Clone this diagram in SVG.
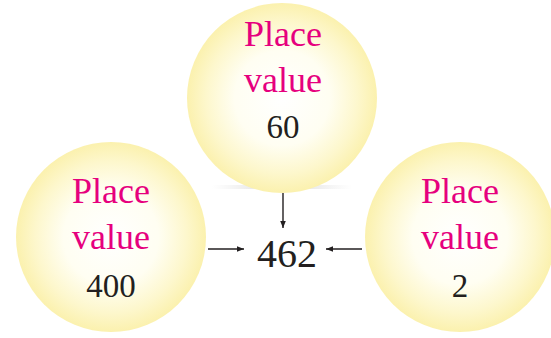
<svg xmlns="http://www.w3.org/2000/svg" width="551" height="338" viewBox="0 0 551 338">
  <style>
    .ball { fill: url(#glow); }
    text { font-family: 'Liberation Serif', 'Times New Roman', serif; text-anchor: middle; }
    .lbl { font-size: 36px; fill: #E6007E; }
    .num { font-size: 33px; fill: #231F20; }
    .sum { font-size: 40px; fill: #231F20; }
    .link { stroke: #231F20; stroke-width: 1.4; fill: none; marker-end: url(#head); }
  </style>
  <defs>
    <radialGradient id="glow" cx="0.5" cy="0.5" r="0.5">
      <stop offset="0" stop-color="#FFFFFF"/>
      <stop offset="0.5" stop-color="#FFFEF2"/>
      <stop offset="0.8" stop-color="#FDF7CC"/>
      <stop offset="1" stop-color="#FBF1AE"/>
    </radialGradient>
    <linearGradient id="shade" x1="0" y1="0" x2="1" y2="0">
      <stop offset="0" stop-color="#E0E0E0" stop-opacity="0"/>
      <stop offset="0.5" stop-color="#D8D8D8" stop-opacity="1"/>
      <stop offset="1" stop-color="#E0E0E0" stop-opacity="0"/>
    </linearGradient>
    <marker id="head" viewBox="0 0 10 10" refX="10" refY="5" markerWidth="5" markerHeight="5" orient="auto" markerUnits="strokeWidth">
      <path d="M0,1 L10,5 L0,9 Z" fill="#231F20"/>
    </marker>
  </defs>

  <!-- soft shadow beneath the upper ball -->
  <rect x="212" y="185" width="140" height="4" fill="url(#shade)"/>

  <g id="node-tens">
    <circle class="ball" cx="282" cy="98" r="95"/>
    <text class="lbl" x="283" y="46">Place</text>
    <text class="lbl" x="283" y="92">value</text>
    <text class="num" x="283" y="138">60</text>
  </g>

  <g id="node-hundreds">
    <circle class="ball" cx="111" cy="237" r="95"/>
    <text class="lbl" x="111" y="203">Place</text>
    <text class="lbl" x="111" y="249">value</text>
    <text class="num" x="111" y="297">400</text>
  </g>

  <g id="node-ones">
    <circle class="ball" cx="460" cy="237" r="95"/>
    <text class="lbl" x="460" y="203">Place</text>
    <text class="lbl" x="460" y="249">value</text>
    <text class="num" x="460" y="297">2</text>
  </g>

  <g id="node-number">
    <text class="sum" x="287" y="267">462</text>
  </g>

  <g id="connectors">
    <line class="link" x1="283" y1="193" x2="283" y2="228"/>
    <line class="link" x1="208" y1="249" x2="244" y2="249"/>
    <line class="link" x1="362" y1="249" x2="326" y2="249"/>
  </g>
</svg>
